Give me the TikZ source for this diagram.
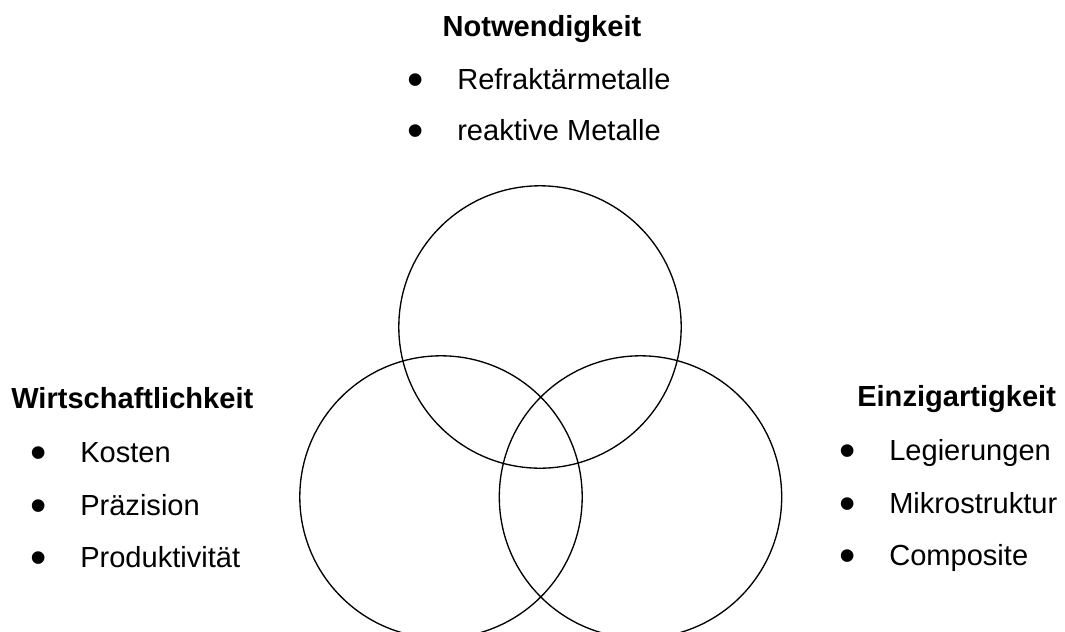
\documentclass[tikz,border=0pt]{standalone}
\usepackage{fontspec}
\setmainfont{Liberation Sans}
\usetikzlibrary{positioning}

\newcommand{\bulitem}[1]{\makebox[37.5pt][l]{\raisebox{-0.24em}{\scalebox{1.6}{\textbullet}}}#1}

\begin{document}
\begin{tikzpicture}[
  x=0.75pt, y=-0.75pt,
  venn/.style = {draw, circle, line width=1pt, minimum size=211.8pt, inner sep=0pt},
  title/.style = {font=\fontsize{21.8}{25}\selectfont\bfseries, inner sep=0pt},
  item/.style = {font=\fontsize{21.8}{25}\selectfont, anchor=base west, inner sep=0pt}
]
  \useasboundingbox (0,0) rectangle (1065,632);

  % Three overlapping circles
  \node[venn] (need) at (540, 327) {};
  \node[venn] (cost) at (441, 497) {};
  \node[venn] (uniq) at (640.5, 497) {};

  % Top group
  \node[title, anchor=base] (need_title) at (542, 36) {Notwendigkeit};
  \node[item] (need_a) at (407, 89) {\bulitem{Refraktärmetalle}};
  \node[item] (need_b) at (407, 140) {\bulitem{reaktive Metalle}};

  % Left group
  \node[title, anchor=base west] (cost_title) at (11, 408) {Wirtschaftlichkeit};
  \node[item] (cost_a) at (30, 462) {\bulitem{Kosten}};
  \node[item] (cost_b) at (30, 515) {\bulitem{Präzision}};
  \node[item] (cost_c) at (30, 567) {\bulitem{Produktivität}};

  % Right group
  \node[title, anchor=base west] (uniq_title) at (857, 406) {Einzigartigkeit};
  \node[item] (uniq_a) at (839, 460) {\bulitem{Legierungen}};
  \node[item] (uniq_b) at (839, 513) {\bulitem{Mikrostruktur}};
  \node[item] (uniq_c) at (839, 565) {\bulitem{Composite}};

\end{tikzpicture}
\end{document}
